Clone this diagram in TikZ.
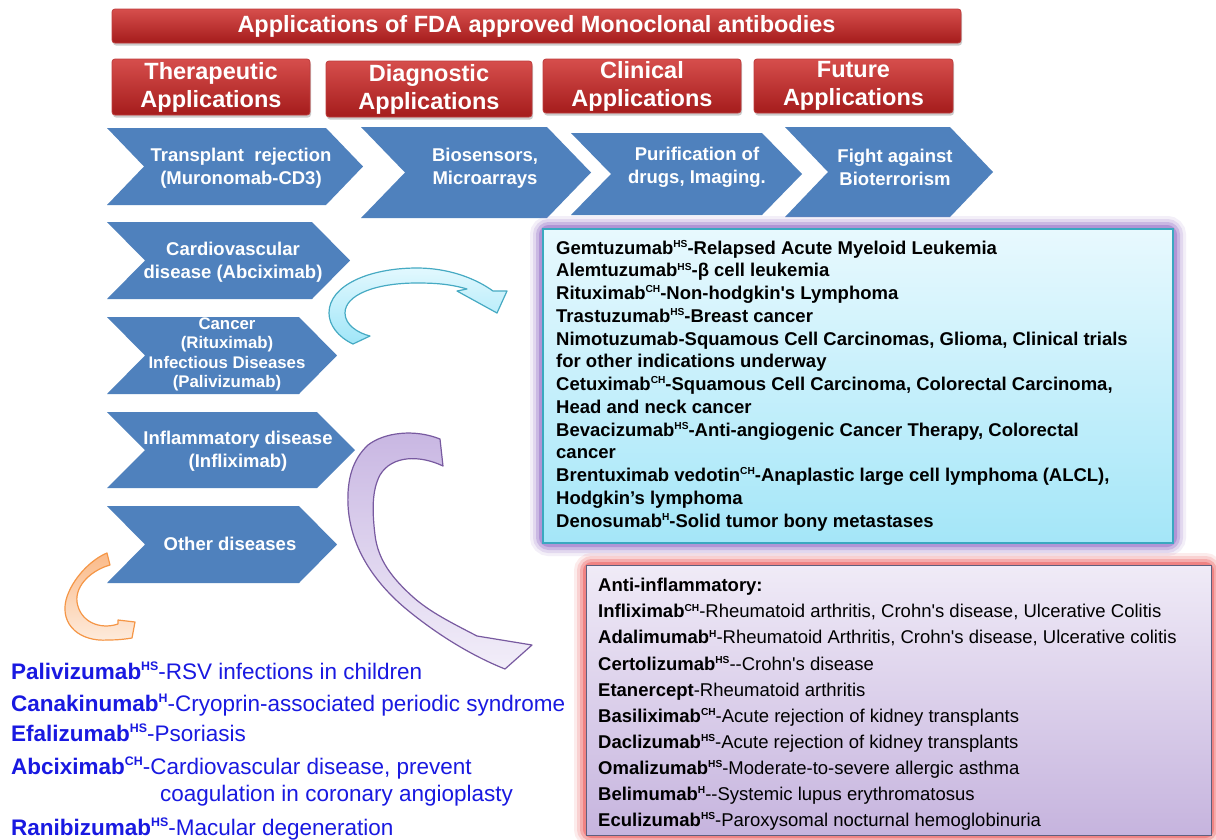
\documentclass[tikz,border=0pt]{standalone}
\usepackage{fontspec}
\setmainfont{Liberation Sans}[Ligatures=TeXOff]
\usepackage{graphicx}
\usetikzlibrary{shadows}
\definecolor{chevblue}{RGB}{79,129,189}
\definecolor{redtop}{RGB}{214,78,76}
\definecolor{redbot}{RGB}{165,28,28}
\definecolor{redbor}{RGB}{190,60,60}
\definecolor{cytop}{RGB}{232,249,254}
\definecolor{cybot}{RGB}{164,230,248}
\definecolor{cybor}{RGB}{58,168,192}
\definecolor{glowp}{RGB}{160,125,205}
\definecolor{glowr}{RGB}{238,105,105}
\definecolor{putop}{RGB}{240,235,247}
\definecolor{pubot}{RGB}{198,180,222}
\definecolor{pubor}{RGB}{95,95,125}
\definecolor{txtblue}{RGB}{25,25,225}
\definecolor{arcyb}{RGB}{70,170,195}
\definecolor{arcyt}{RGB}{226,248,254}
\definecolor{arcyl}{RGB}{160,230,248}
\definecolor{arpub}{RGB}{120,90,160}
\definecolor{arput}{RGB}{200,182,226}
\definecolor{arpul}{RGB}{242,238,249}
\definecolor{arorb}{RGB}{245,150,70}
\definecolor{arort}{RGB}{251,186,136}
\definecolor{arorl}{RGB}{253,236,222}
\newcommand{\sps}[1]{\raisebox{0.36em}{\scalebox{0.55}{#1}}}
\newcommand{\chev}[5]{\fill[chevblue] (#1,#3) -- ({#2-#5},#3) -- (#2,{(#3+#4)/2}) -- ({#2-#5},#4) -- (#1,#4) -- ({#1+#5},{(#3+#4)/2}) -- cycle;}
\begin{document}
\begin{tikzpicture}[x=1pt,y=-1pt,
  redbox/.style={rounded corners=3pt, top color=redtop, bottom color=redbot, draw=redbor, line width=0.8pt,
    text=white, font=\bfseries\fontsize{23.5}{28}\selectfont, align=center, inner sep=0pt,
    drop shadow={opacity=0.4, shadow xshift=1pt, shadow yshift=-2.5pt}},
  chtext/.style={text=white, font=\bfseries\fontsize{18.5}{22.5}\selectfont, align=center, inner sep=0pt},
  cyline/.style={anchor=base west, inner sep=0pt, font=\bfseries\fontsize{18.5}{22}\selectfont},
  puline/.style={anchor=base west, inner sep=0pt, font=\fontsize{18.5}{22}\selectfont},
  blline/.style={anchor=base west, inner sep=0pt, text=txtblue, font=\fontsize{22.5}{26}\selectfont}]
\useasboundingbox (0,0) rectangle (1216,839);
\fill[white] (0,0) rectangle (1216,839);

% title and headers
\node[redbox, minimum width=849pt, minimum height=34pt] (title) at (536.5,26) {Applications of FDA approved Monoclonal antibodies};
\node[redbox, minimum width=198pt, minimum height=56pt] (ther) at (211,87) {Therapeutic\\Applications};
\node[redbox, minimum width=206pt, minimum height=56pt] (diag) at (429,89) {Diagnostic\\Applications};
\node[redbox, minimum width=198pt, minimum height=54pt] (clin) at (642,86) {Clinical\\Applications};
\node[redbox, minimum width=199pt, minimum height=54pt] (fut) at (853.5,86) {Future\\Applications};

% chevrons row
\chev{107}{363}{128}{205}{37}
\chev{361}{591}{127}{218}{44}
\chev{571}{802}{133}{215}{40}
\chev{785}{993}{127}{217}{43}
\node[chtext] (c1) at (241,168) {Transplant\ \ rejection\\(Muronomab-CD3)};
\node[chtext] (c2) at (485,168) {Biosensors,\\Microarrays};
\node[chtext] (c3) at (697,167.5) {Purification of\\drugs, Imaging.};
\node[chtext] (c4) at (895,167.5) {Fight against\\Bioterrorism};

% left column chevrons
\chev{107}{350}{222}{299}{38}
\chev{107}{337}{317}{394}{38}
\chev{107}{355}{412}{488}{38}
\chev{107}{337}{506}{583}{38}
\node[chtext] (l1) at (233,262) {Cardiovascular\\disease (Abciximab)};
\node[chtext, font=\bfseries\fontsize{16.8}{19.3}\selectfont] (l2) at (227,354.5) {Cancer\\(Rituximab)\\Infectious Diseases\\(Palivizumab)};
\node[chtext] (l3) at (238,451) {Inflammatory disease\\(Infliximab)};
\node[chtext] (l4) at (230,544) {Other diseases};

% cyan box with purple glow
\foreach \w/\o in {26/0.12,20/0.2,14/0.35,8/0.6} \draw[glowp, line width=\w pt, opacity=\o, rounded corners=6pt] (543,229) rectangle (1173,543);
\path[top color=cytop, bottom color=cybot, draw=cybor, line width=2pt] (543,229) rectangle (1173,543);
\foreach [count=\i] \t in {
 {Gemtuzumab\sps{HS}-Relapsed Acute Myeloid Leukemia},
 {Alemtuzumab\sps{HS}-β cell leukemia},
 {Rituximab\sps{CH}-Non-hodgkin's Lymphoma},
 {Trastuzumab\sps{HS}-Breast cancer},
 {Nimotuzumab-Squamous Cell Carcinomas, Glioma, Clinical trials},
 {for other indications underway},
 {Cetuximab\sps{CH}-Squamous Cell Carcinoma, Colorectal Carcinoma,},
 {Head and neck cancer},
 {Bevacizumab\sps{HS}-Anti-angiogenic Cancer Therapy, Colorectal},
 {cancer},
 {Brentuximab vedotin\sps{CH}-Anaplastic large cell lymphoma (ALCL),},
 {Hodgkin’s lymphoma},
 {Denosumab\sps{H}-Solid tumor bony metastases}}
 \node[cyline] (cy\i) at (556,{254+22.75*(\i-1)}) {\t};

% purple box with red glow
\foreach \w/\o in {24/0.12,18/0.2,12/0.35,6/0.6} \draw[glowr, line width=\w pt, opacity=\o, rounded corners=6pt] (586,565) rectangle (1211,835);
\path[top color=putop, bottom color=pubot, draw=pubor, line width=1pt] (586,565) rectangle (1211,835);
\foreach [count=\i] \t in {
 {\textbf{Anti-inflammatory:}},
 {\textbf{Infliximab\sps{CH}}-Rheumatoid arthritis, Crohn's disease, Ulcerative Colitis},
 {\textbf{Adalimumab\sps{H}}-Rheumatoid Arthritis, Crohn's disease, Ulcerative colitis},
 {\textbf{Certolizumab\sps{HS}}--Crohn's disease},
 {\textbf{Etanercept}-Rheumatoid arthritis},
 {\textbf{Basiliximab\sps{CH}}-Acute rejection of kidney transplants},
 {\textbf{Daclizumab\sps{HS}}-Acute rejection of kidney transplants},
 {\textbf{Omalizumab\sps{HS}}-Moderate-to-severe allergic asthma},
 {\textbf{Belimumab\sps{H}}--Systemic lupus erythromatosus},
 {\textbf{Eculizumab\sps{HS}}-Paroxysomal nocturnal hemoglobinuria}}
 \node[puline] (pu\i) at (598,{591.7+26.1*(\i-1)}) {\t};

% blue text bottom left
\node[blline] (b1) at (11,679) {\textbf{Palivizumab\sps{HS}}-RSV infections in children};
\node[blline] (b2) at (11,711) {\textbf{Canakinumab\sps{H}}-Cryoprin-associated periodic syndrome};
\node[blline] (b3) at (11,741) {\textbf{Efalizumab\sps{HS}}-Psoriasis};
\node[blline] (b4) at (11,774) {\textbf{Abciximab\sps{CH}}-Cardiovascular disease, prevent};
\node[blline] (b5) at (160,801) {coagulation in coronary angioplasty};
\node[blline] (b6) at (11,835) {\textbf{Ranibizumab\sps{HS}}-Macular degeneration};

% cyan curved arrow
\path[top color=arcyt, bottom color=arcyl, draw=arcyb, line width=1.2pt, line join=round]
 (353,344) .. controls (338,337) and (329,325) .. (329,313)
 .. controls (329,285) and (370,268) .. (417,268)
 .. controls (448,268) and (475,278) .. (493,291)
 -- (507,291) -- (497,313) -- (457,291) -- (467,289)
 .. controls (450,284) and (435,283) .. (417,283)
 .. controls (375,283) and (345,295) .. (345,313)
 .. controls (345,325) and (358,333) .. (370,336) -- cycle;

% purple curved arrow
\path[top color=arput, bottom color=arpul, draw=arpub, line width=1.2pt, line join=round]
 (440,439) .. controls (415,429) and (385,432) .. (368,445)
 .. controls (352,460) and (347,480) .. (348,505)
 .. controls (350,545) and (372,580) .. (405,608)
 .. controls (435,633) and (470,655) .. (505,669)
 -- (532,645) -- (477,636)
 .. controls (450,622) and (430,612) .. (413,597)
 .. controls (392,578) and (378,560) .. (375,535)
 .. controls (372,510) and (372,490) .. (380,475)
 .. controls (392,455) and (420,455) .. (443,466) -- cycle;

% orange curved arrow
\path[top color=arort, bottom color=arorl, draw=arorb, line width=1.2pt, line join=round]
 (107,553) .. controls (92,559) and (72,578) .. (66,600)
 .. controls (60,625) and (80,642) .. (108,640)
 .. controls (118,640) and (126,639) .. (132,638)
 -- (135,622) -- (118,620) -- (118,624)
 .. controls (100,630) and (80,622) .. (77,602)
 .. controls (75,585) and (92,570) .. (110,565) -- cycle;
\end{tikzpicture}
\end{document}
